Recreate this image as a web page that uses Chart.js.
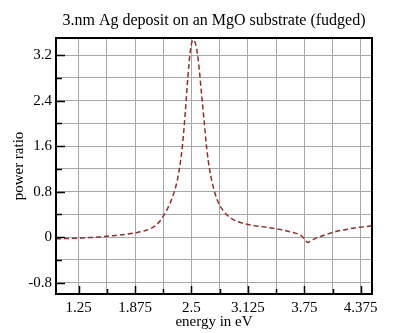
<!DOCTYPE html>
<html>
<head>
<meta charset="utf-8">
<script src="https://cdn.jsdelivr.net/npm/chart.js@4.4.1/dist/chart.umd.min.js"></script>
<style>
  html, body { margin: 0; padding: 0; background: #fff; }
  canvas { display: block; }
</style>
</head>
<body>
<canvas id="ratio-chart" width="400" height="333"></canvas>
<script>
// photon energy (eV) and measured power ratio
const energy = [1.0, 1.1, 1.2, 1.3, 1.4, 1.5, 1.6, 1.7, 1.8, 1.9, 2.0, 2.05, 2.1, 2.15, 2.2, 2.25,
  2.3, 2.35, 2.4, 2.43, 2.46, 2.49, 2.52, 2.55, 2.58, 2.61, 2.64, 2.67, 2.7, 2.75, 2.8, 2.85,
  2.9, 2.95, 3.0, 3.1, 3.2, 3.3, 3.4, 3.5, 3.6, 3.65, 3.7, 3.74, 3.77, 3.79, 3.82, 3.86, 3.9,
  4.0, 4.1, 4.2, 4.3, 4.4, 4.5];
const powerRatio = [-0.03, -0.025, -0.02, -0.015, -0.005, 0.005, 0.02, 0.035, 0.055, 0.08, 0.12, 0.15, 0.2, 0.28, 0.4, 0.55,
  0.75, 1.05, 1.6, 2.15, 2.8, 3.3, 3.47, 3.37, 3.05, 2.55, 2.05, 1.55, 1.2, 0.83, 0.6, 0.47,
  0.38, 0.32, 0.28, 0.23, 0.2, 0.18, 0.155, 0.13, 0.09, 0.07, 0.04, -0.01, -0.07, -0.095, -0.07, -0.035, -0.005,
  0.05, 0.1, 0.13, 0.16, 0.18, 0.2];

// labelled ticks; grid lines fall on these and halfway between them
const xMajor = [1.25, 1.875, 2.5, 3.125, 3.75, 4.375];
const xLabels = ['1.25', '1.875', '2.5', '3.125', '3.75', '4.375'];
const yMajor = [-0.8, 0, 0.8, 1.6, 2.4, 3.2];
const yLabels = ['-0.8', '0', '0.8', '1.6', '2.4', '3.2'];

const chartTitle = '3.nm Ag deposit on an MgO substrate (fudged)';
const serif = '"Liberation Serif", "DejaVu Serif", serif';

function withMinor(major) {
  const out = [];
  major.forEach((v, i) => {
    out.push(v);
    if (i < major.length - 1) out.push((v + major[i + 1]) / 2);
  });
  return out;
}

function labelFor(major, labels) {
  return (value) => {
    const i = major.findIndex(m => Math.abs(m - value) < 1e-6);
    return i >= 0 ? labels[i] : '';
  };
}

// black frame round the plot, inward tick marks on the left and bottom,
// and the title centred over the plot area
const framePlugin = {
  id: 'frame',
  afterDraw(chart) {
    const { ctx, chartArea: a, scales } = chart;
    ctx.save();
    ctx.strokeStyle = '#000';
    ctx.lineWidth = 1.5;
    ctx.beginPath();
    scales.x.ticks.forEach(t => {
      const px = Math.round(scales.x.getPixelForValue(t.value)) + 0.5;
      const len = xMajor.some(m => Math.abs(m - t.value) < 1e-6) ? 8 : 5;
      ctx.moveTo(px, a.bottom);
      ctx.lineTo(px, a.bottom - len);
    });
    scales.y.ticks.forEach(t => {
      const py = Math.round(scales.y.getPixelForValue(t.value)) + 0.5;
      const len = yMajor.some(m => Math.abs(m - t.value) < 1e-6) ? 9 : 6;
      ctx.moveTo(a.left, py);
      ctx.lineTo(a.left + len, py);
    });
    ctx.stroke();
    ctx.lineWidth = 2;
    ctx.strokeRect(a.left, a.top, a.right - a.left, a.bottom - a.top);

    ctx.fillStyle = '#000';
    ctx.font = '16px ' + serif;
    ctx.textAlign = 'center';
    ctx.textBaseline = 'middle';
    ctx.fillText(chartTitle, (a.left + a.right) / 2, 21);
    ctx.restore();
  }
};

new Chart(document.getElementById('ratio-chart'), {
  type: 'line',
  data: {
    datasets: [{
      data: energy.map((e, i) => ({ x: e, y: powerRatio[i] })),
      borderColor: '#922f2f',
      borderWidth: 1.5,
      borderDash: [5, 3],
      pointRadius: 0,
      cubicInterpolationMode: 'monotone',
      fill: false
    }]
  },
  options: {
    responsive: false,
    animation: false,
    layout: { padding: { left: 0, right: 28, top: 38, bottom: 0 } },
    plugins: {
      legend: { display: false },
      tooltip: { enabled: false },
      title: { display: false }
    },
    scales: {
      x: {
        type: 'linear',
        min: 1.0,
        max: 4.5,
        afterBuildTicks: s => { s.ticks = withMinor(xMajor).map(v => ({ value: v })); },
        afterFit: s => { s.height = 39; },
        ticks: {
          autoSkip: false,
          maxRotation: 0,
          padding: 5,
          color: '#000',
          font: { family: serif, size: 15 },
          callback: labelFor(xMajor, xLabels)
        },
        grid: { color: '#a8a8a8', lineWidth: 1, drawTicks: false },
        border: { display: false },
        title: {
          display: true,
          text: 'energy in eV',
          color: '#000',
          font: { family: serif, size: 15 },
          padding: { top: 0, bottom: 2 }
        }
      },
      y: {
        type: 'linear',
        min: -1.0,
        max: 3.5,
        afterBuildTicks: s => { s.ticks = withMinor(yMajor).map(v => ({ value: v })); },
        afterFit: s => { s.width = 56; },
        ticks: {
          autoSkip: false,
          padding: 4,
          color: '#000',
          font: { family: serif, size: 15 },
          callback: labelFor(yMajor, yLabels)
        },
        grid: { color: '#a8a8a8', lineWidth: 1, drawTicks: false },
        border: { display: false },
        title: {
          display: true,
          text: 'power ratio',
          color: '#000',
          font: { family: serif, size: 15 },
          padding: { top: 10, bottom: 0 }
        }
      }
    }
  },
  plugins: [framePlugin]
});
</script>
</body>
</html>
